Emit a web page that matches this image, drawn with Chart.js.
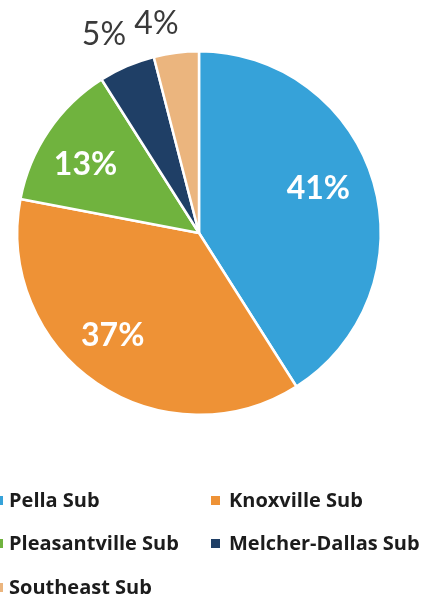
<!DOCTYPE html>
<html><head><meta charset="utf-8">
<script src="https://cdn.jsdelivr.net/npm/chart.js@4.4.1/dist/chart.umd.min.js"></script>
<style>
html,body{margin:0;padding:0;background:#fff;overflow:hidden;}
#wrap{position:relative;width:433px;height:597px;}
canvas{position:absolute;left:0;top:0;}
.leg{position:absolute;font-family:"Open Sans",Lato,sans-serif;font-weight:700;font-size:20px;color:#1c1c1c;line-height:22px;white-space:nowrap;}
.leg i{position:absolute;width:9px;height:9px;top:7px;left:-18px;}
</style></head>
<body><div id="wrap"><canvas id="c" width="433" height="597"></canvas><div id="legend"></div></div>
<script>
const categories = ["Pella Sub","Knoxville Sub","Pleasantville Sub","Melcher-Dallas Sub","Southeast Sub"];
const values = [41,37,13,5,4];
const labels = ["41%","37%","13%","5%","4%"];
const colors = ["#36a2d9","#ee9236","#70b33e","#1f3f66","#ebb57e"];

// label placement: radial factor, angle tweak (deg), inside/outside
const labelPos = [
  {r:0.70, da:-4, inside:true},
  {r:0.74, da:5.7, inside:true},
  {r:0.73, da:-3, inside:true},
  {r:1.21, da:-2.2, inside:false},
  {r:1.175, da:-4.3, inside:false}
];

const labelPlugin = {
  id:'pctLabels',
  afterDatasetsDraw(chart){
    const ctx = chart.ctx;
    const meta = chart.getDatasetMeta(0);
    meta.data.forEach((arc,i)=>{
      const p = arc.getProps(['x','y','startAngle','endAngle','outerRadius'],true);
      const mid = (p.startAngle+p.endAngle)/2 + labelPos[i].da*Math.PI/180;
      const rr = p.outerRadius*labelPos[i].r;
      const x = p.x + Math.cos(mid)*rr, y = p.y + Math.sin(mid)*rr;
      ctx.save();
      ctx.textAlign='center'; ctx.textBaseline='middle';
      if(labelPos[i].inside){
        ctx.font='700 32px Lato, "Open Sans", sans-serif';
        ctx.fillStyle='#ffffff';
      } else {
        ctx.font='400 32px Lato, "Open Sans", sans-serif';
        ctx.fillStyle='#3a3a3a';
      }
      ctx.fillText(labels[i], x, y);
      ctx.restore();
    });
  }
};

new Chart(document.getElementById('c'),{
  type:'pie',
  data:{labels:categories,datasets:[{data:values,backgroundColor:colors,borderColor:'#ffffff',borderWidth:2.5,hoverOffset:0,offset:0}]},
  options:{
    responsive:false,animation:false,
    layout:{padding:{left:16,right:51,top:50,bottom:181}},
    plugins:{legend:{display:false},tooltip:{enabled:false}}
  },
  plugins:[labelPlugin]
});

// legend
const legPos = [[9,489],[229,489],[9,532],[229,532],[9,576]];
const lg = document.getElementById('legend');
categories.forEach((c,i)=>{
  const d=document.createElement('div');
  d.className='leg';
  d.style.left=legPos[i][0]+'px'; d.style.top=legPos[i][1]+'px';
  d.innerHTML='<i style="background:'+colors[i]+';left:'+(i%2===0?-15:-18)+'px"></i>'+c;
  lg.appendChild(d);
});
</script></body></html>
